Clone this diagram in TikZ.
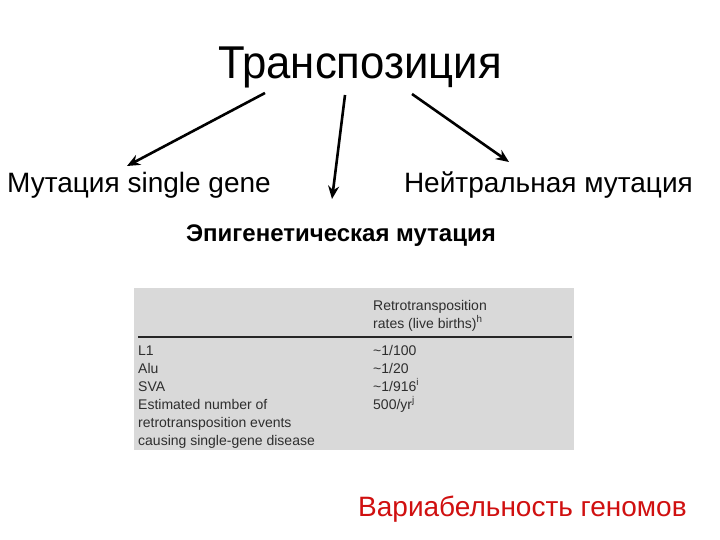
\documentclass[tikz,border=0pt]{standalone}
\usepackage{fontspec}
\setmainfont{Liberation Sans}
\newfontfamily\narrowsans[FakeStretch=0.95]{Liberation Sans}
\usetikzlibrary{arrows.meta}
\definecolor{tabgray}{HTML}{D9D9D9}
\definecolor{tabtext}{HTML}{2E2E2E}
\definecolor{redtext}{HTML}{D01010}
\tikzset{
  branch/.style={line width=2.6pt, -{Stealth[length=13pt, width=11pt]}},
  cell/.style={anchor=base west, inner sep=0pt, text=tabtext, font=\fontsize{14}{16}\selectfont},
  label/.style={inner sep=0pt, font=\fontsize{28}{32}\selectfont}
}
\begin{document}
\begin{tikzpicture}[x=1pt, y=-1pt]
  \useasboundingbox[fill=white] (0,0) rectangle (720,540);

  \node[inner sep=0pt, anchor=base, font=\narrowsans\fontsize{46}{50}\selectfont] (trans) at (360,79) {Транспозиция};
  \node[label, anchor=base west] (single) at (7,193) {Мутация single gene};
  \node[label, anchor=base east] (neutral) at (693,193) {Нейтральная мутация};
  \node[inner sep=0pt, anchor=base, font=\fontsize{24}{28}\selectfont\bfseries] (epi) at (341,241) {Эпигенетическая мутация};

  % arrow ends
  \coordinate (s1) at (265,93);
  \coordinate (e1) at (127,166);
  \coordinate (s2) at (345,95);
  \coordinate (e2) at (332,199);
  \coordinate (s3) at (412,94);
  \coordinate (e3) at (509,162);
  \draw[branch] (s1) -- (e1);
  \draw[branch] (s2) -- (e2);
  \draw[branch] (s3) -- (e3);

  % table
  \fill[tabgray] (134,288) rectangle (574,450);
  \coordinate (r1) at (138,337);
  \coordinate (r2) at (572,337);
  \draw[line width=1.4pt, black!85] (r1) -- (r2);
  \node[cell] (hd1) at (373,310) {Retrotransposition};
  \node[cell] (hd2) at (373,328) {rates (live births)\textsuperscript{h}};
  \node[cell] (l1) at (138,355) {L1};
  \node[cell] (alu) at (138,373) {Alu};
  \node[cell] (sva) at (138,391) {SVA};
  \node[cell] (est1) at (138,409) {Estimated number of};
  \node[cell] (est2) at (138,427) {retrotransposition events};
  \node[cell] (est3) at (138,445) {causing single-gene disease};
  \node[cell] (vl1) at (373,355) {\textasciitilde 1/100};
  \node[cell] (valu) at (373,373) {\textasciitilde 1/20};
  \node[cell] (vsva) at (373,391) {\textasciitilde 1/916\textsuperscript{i}};
  \node[cell] (vest) at (373,409) {500/yr\textsuperscript{j}};

  \node[inner sep=0pt, anchor=base west, text=redtext, font=\fontsize{28}{32}\selectfont] (var) at (358,516) {Вариабельность геномов};
\end{tikzpicture}
\end{document}
